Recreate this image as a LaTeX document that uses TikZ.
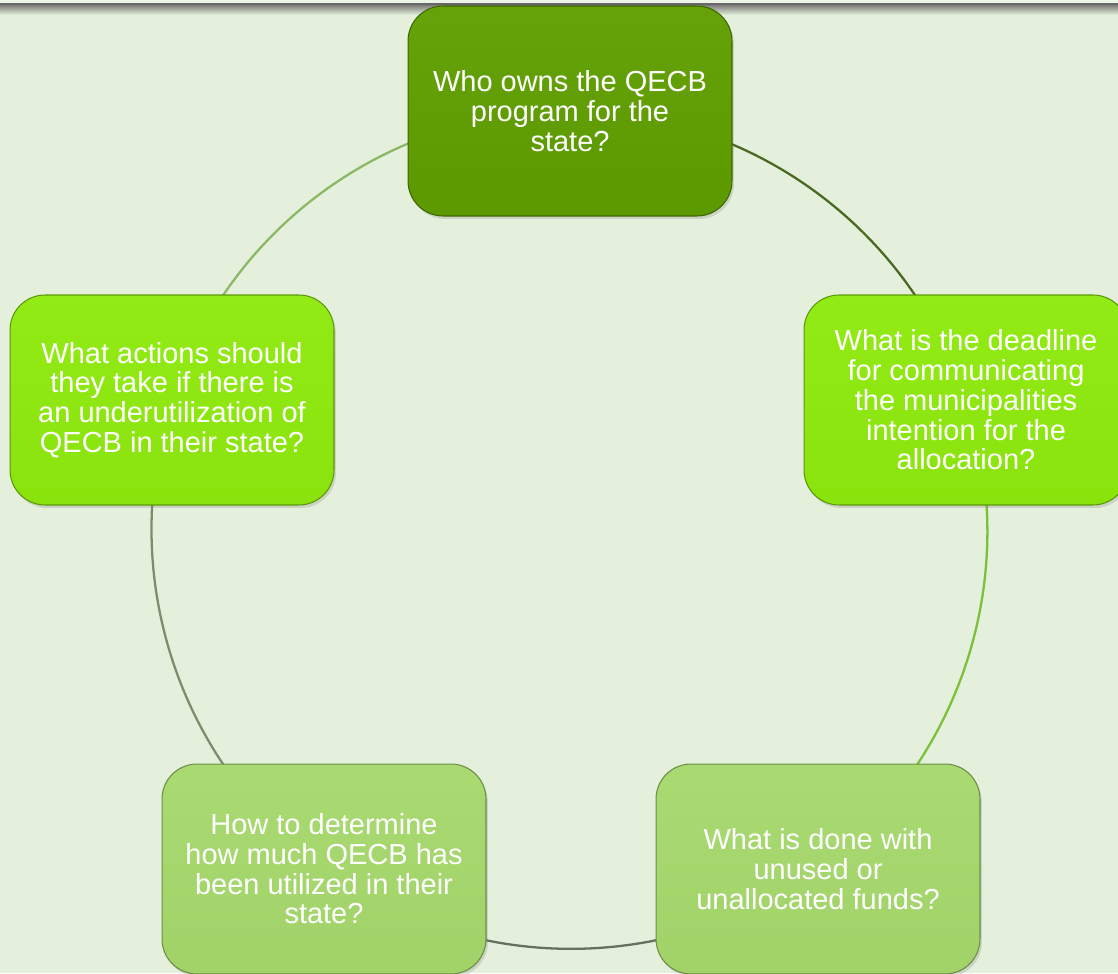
\documentclass[tikz,border=0pt]{standalone}
\usepackage{fontspec}
\setmainfont{Liberation Sans}
\usetikzlibrary{shadows,backgrounds}
\definecolor{paper}{HTML}{E4F0DC}
\definecolor{darkleaf}{HTML}{5F9E00}
\definecolor{brightleaf}{HTML}{8EEA0C}
\definecolor{paleleaf}{HTML}{A6D96C}
\definecolor{ringa}{HTML}{4A6A22}
\definecolor{ringb}{HTML}{7CC03A}
\definecolor{ringc}{HTML}{66705E}
\definecolor{ringd}{HTML}{7D8C6C}
\definecolor{ringe}{HTML}{8BB865}

\begin{document}
\begin{tikzpicture}[x=0.02cm,y=-0.02cm,
    question/.style={draw=#1!65!black, line width=0.6pt, top color=#1!96!white, bottom color=#1!97!black, rounded corners=0.7cm, minimum width=6.48cm, minimum height=4.2cm, text=white, align=center, font=\fontsize{16.5}{16.9}\selectfont, drop shadow={opacity=0.25,shadow xshift=0.04cm,shadow yshift=-0.06cm}},
    link/.style={draw=#1, line width=1.3pt, looseness=0.94}]
  \useasboundingbox (0,0) rectangle (1118,973);
  \node[question=darkleaf] (top) at (570,111) {Who owns the QECB\\program for the\\state?};
  \node[question=brightleaf] (right) at (966,400) {What is the deadline\\for communicating\\the municipalities\\intention for the\\allocation?};
  \node[question=paleleaf] (botright) at (818,869) {What is done with\\unused or\\unallocated funds?};
  \node[question=paleleaf] (botleft) at (324,869) {How to determine\\how much QECB has\\been utilized in their\\state?};
  \node[question=brightleaf] (left) at (172,400) {What actions should\\they take if there is\\an underutilization of\\QECB in their state?};
  \begin{scope}[on background layer]
    \fill[paper] (0,0) rectangle (1118,973);
    \fill[paper!70!white] (0,0) rectangle (1118,4);
    \fill[top color=black!55, bottom color=paper] (0,4) rectangle (1118,15);
    \draw[black!60, line width=0.8pt] (0,4.5) -- (1118,4.5);
    \draw[link=ringa] (top.center) to[bend left=36] (right.center);
    \draw[link=ringb] (right.center) to[bend left=36] (botright.center);
    \draw[link=ringc] (botright.center) to[bend left=36] (botleft.center);
    \draw[link=ringd] (botleft.center) to[bend left=36] (left.center);
    \draw[link=ringe] (left.center) to[bend left=36] (top.center);
  \end{scope}
\end{tikzpicture}
\end{document}
